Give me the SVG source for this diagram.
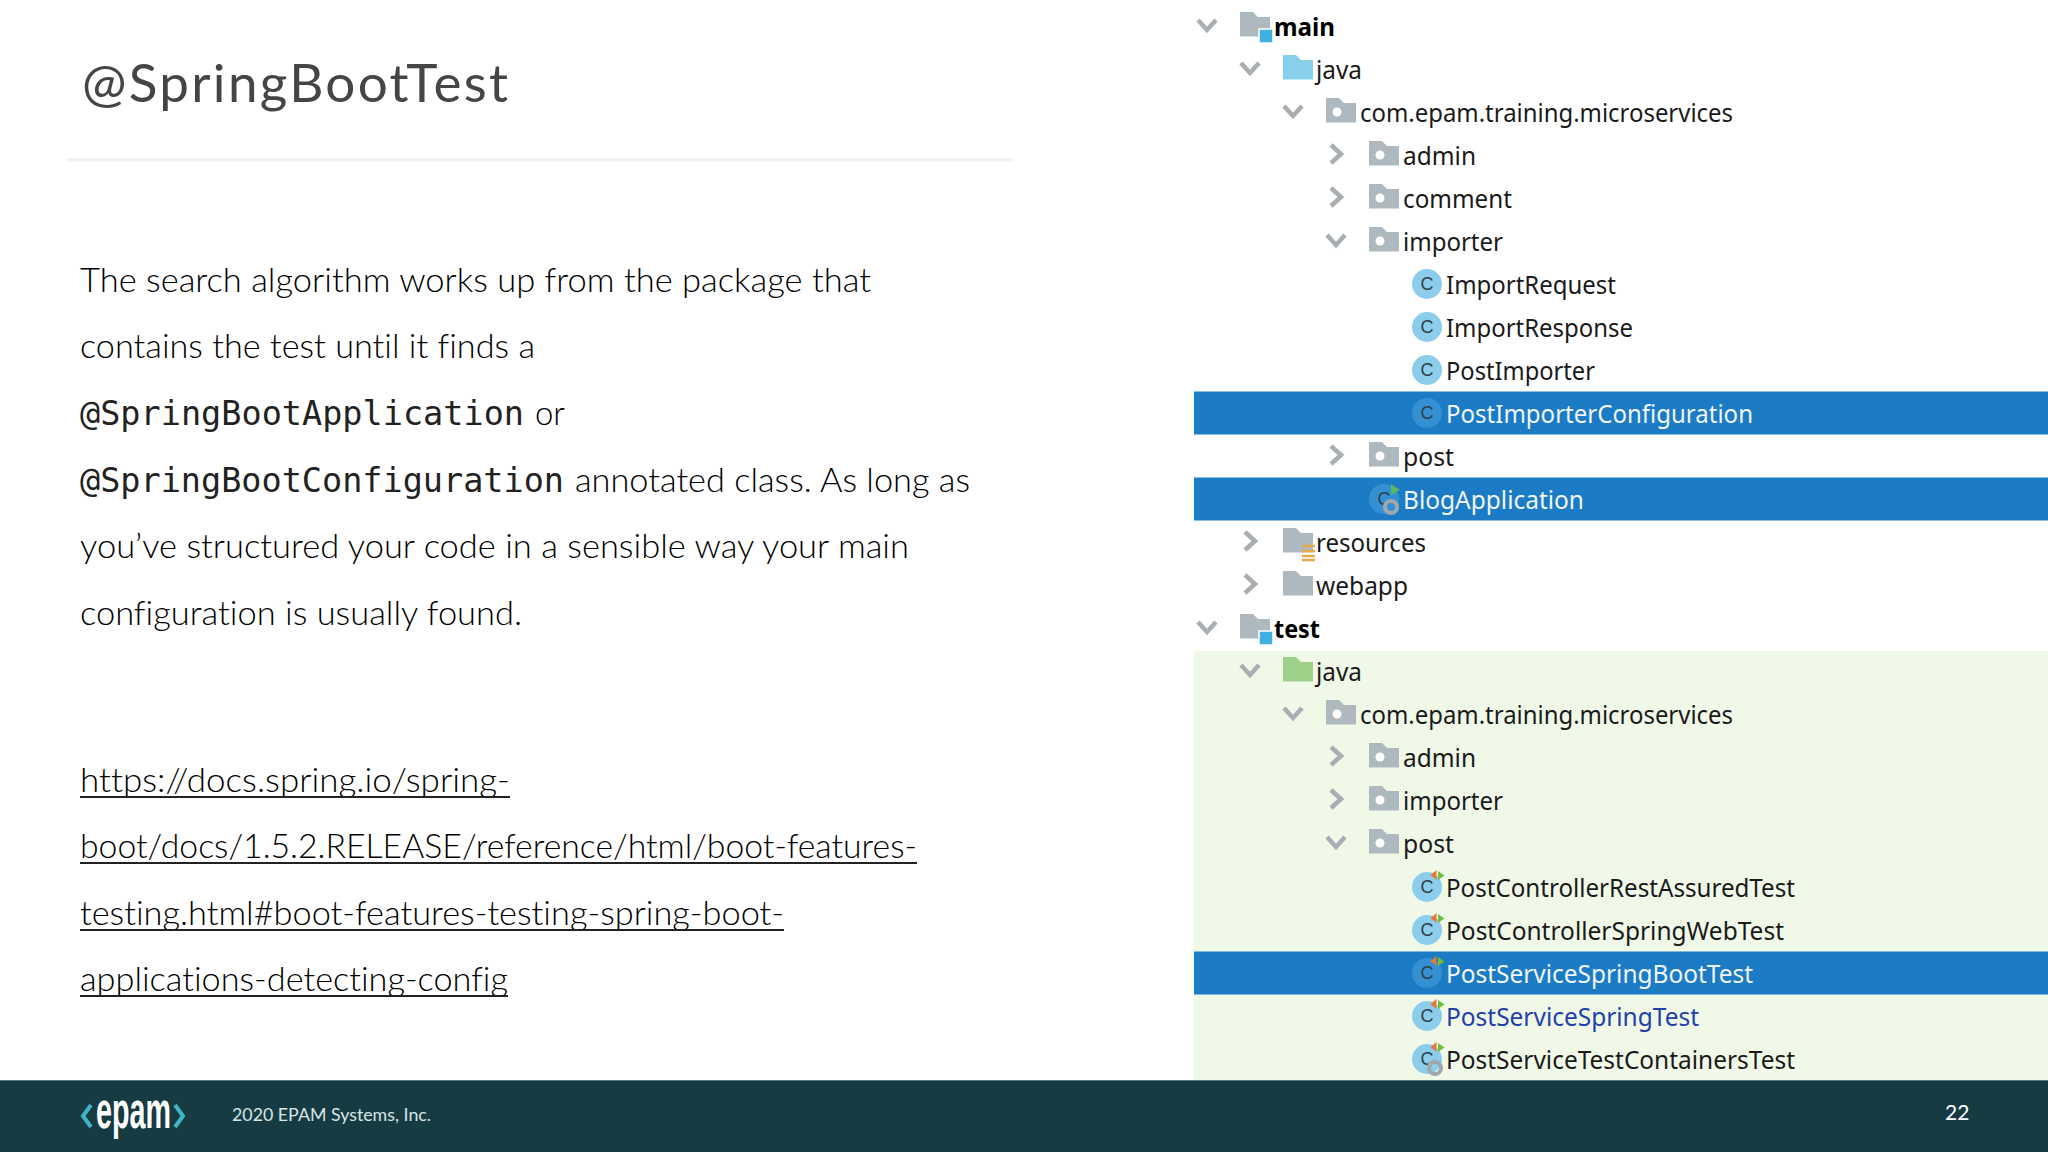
<svg xmlns="http://www.w3.org/2000/svg" width="2048" height="1152" viewBox="0 0 2048 1152">
<style>
.b{font-family:"Lato","Open Sans","Liberation Sans",sans-serif;font-size:33px;font-weight:300;fill:#000;font-variant-ligatures:none}
.m{font-family:"DejaVu Sans Mono","Liberation Mono",monospace;font-size:33.5px;fill:#222}
.t{font-family:"Noto Sans","Open Sans",sans-serif;font-size:25px;fill:#1a1a1a;transform:translateY(-.5px)}
.tb{font-weight:700;fill:#000}
.s{fill:#f0f6fb}
.ul{fill:#222}
.ch{fill:none;stroke:#a8aeb2;stroke-width:4.500}
.sel{fill:#1b7bc5}
.C{font-family:"Liberation Sans",sans-serif;font-size:18px;fill:#2f3f47;text-anchor:middle}
</style>
<defs>
<path id="dn" class="ch" d="M-9 -6L0 4L9 -6"/>
<path id="rt" class="ch" d="M-5 -10L5 -1L-5 8"/>
<path id="f" d="M0 -14H13L18 -9H30V10.500H0Z"/>
<g id="pk"><use href="#f" fill="#aeb8bf"/><circle cx="11" cy="0" r="4.500" fill="#fff"/></g>
<g id="src"><use href="#f" fill="#aeb8bf"/><rect x="19" y="3" width="14" height="14" fill="#3fb1e0" stroke="#fff" stroke-width="1.500"/></g>
<g id="cl"><circle r="15"/><text class="C" x="0" y="6">C</text></g>
<g id="tst"><path d="M9.500 -17L3.500 -12L9.500 -7Z" fill="#e8763c"/><path d="M11 -16L17.500 -11.500L11 -7Z" fill="#6cbf3c"/></g>
<g id="gear"><circle r="6" fill="none" stroke="#a0a8ad" stroke-width="4"/></g>
</defs>
<rect width="2048" height="1152" fill="#fff"/>
<text id="title" x="82" y="102" font-family="Lato,'Open Sans',sans-serif" font-size="53" fill="#454545" textLength="426">@SpringBootTest</text>
<rect x="67" y="158" width="945" height="3.500" fill="#f1f1f1"/>
<g id="body">
<text class="b" x="80" y="292" textLength="791" lengthAdjust="spacingAndGlyphs">The search algorithm works up from the package that</text>
<text class="b" x="80" y="358" textLength="455" lengthAdjust="spacingAndGlyphs">contains the test until it finds a</text>
<text class="m" x="80" y="425" textLength="444">@SpringBootApplication</text>
<text class="b" x="535" y="425" textLength="30" lengthAdjust="spacingAndGlyphs">or</text>
<text class="m" x="80" y="492" textLength="484">@SpringBootConfiguration</text>
<text class="b" x="575" y="492" textLength="395" lengthAdjust="spacingAndGlyphs">annotated class. As long as</text>
<text class="b" x="80" y="558" textLength="829" lengthAdjust="spacingAndGlyphs">you’ve structured your code in a sensible way your main</text>
<text class="b" x="80" y="625" textLength="442" lengthAdjust="spacingAndGlyphs">configuration is usually found.</text>
<text class="b" x="80" y="792" textLength="430" lengthAdjust="spacingAndGlyphs">https://docs.spring.io/spring-</text>
<rect class="ul" x="80" y="796" width="430" height="2"/>
<text class="b" x="80" y="858" textLength="837" lengthAdjust="spacingAndGlyphs">boot/docs/1.5.2.RELEASE/reference/html/boot-features-</text>
<rect class="ul" x="80" y="862" width="837" height="2"/>
<text class="b" x="80" y="925" textLength="704" lengthAdjust="spacingAndGlyphs">testing.html#boot-features-testing-spring-boot-</text>
<rect class="ul" x="80" y="929" width="704" height="2"/>
<text class="b" x="80" y="991" textLength="428" lengthAdjust="spacingAndGlyphs">applications-detecting-config</text>
<rect class="ul" x="80" y="995" width="428" height="2"/>
</g>
<g id="tree-bg">
<rect x="1194" y="651" width="854" height="429" fill="#f0f8e8"/>
<rect class="sel" x="1194" y="391.500" width="854" height="43"/>
<rect class="sel" x="1194" y="477.500" width="854" height="43"/>
<rect class="sel" x="1194" y="951.500" width="854" height="43"/>
</g>
<g id="tree">
<g id="r0"><use href="#dn" x="1207" y="26"/><use href="#src" x="1240" y="26"/><text class="t tb" x="1274" y="36.500" textLength="61" lengthAdjust="spacingAndGlyphs">main</text></g>
<g id="r1"><use href="#dn" x="1250" y="69"/><use href="#f" x="1283" y="69" fill="#88cfea"/><text class="t" x="1316" y="79.500" textLength="46" lengthAdjust="spacingAndGlyphs">java</text></g>
<g id="r2"><use href="#dn" x="1293" y="112"/><use href="#pk" x="1326" y="112"/><text class="t" x="1360" y="122.500" textLength="373" lengthAdjust="spacingAndGlyphs">com.epam.training.microservices</text></g>
<g id="r3"><use href="#rt" x="1336" y="155"/><use href="#pk" x="1369" y="155"/><text class="t" x="1403" y="165.500" textLength="73" lengthAdjust="spacingAndGlyphs">admin</text></g>
<g id="r4"><use href="#rt" x="1336" y="198"/><use href="#pk" x="1369" y="198"/><text class="t" x="1403" y="208.500" textLength="109" lengthAdjust="spacingAndGlyphs">comment</text></g>
<g id="r5"><use href="#dn" x="1336" y="241"/><use href="#pk" x="1369" y="241"/><text class="t" x="1403" y="251.500" textLength="100" lengthAdjust="spacingAndGlyphs">importer</text></g>
<g id="r6"><use href="#cl" x="1427" y="284" fill="#8bcdea"/><text class="t" x="1446" y="294.500" textLength="170" lengthAdjust="spacingAndGlyphs">ImportRequest</text></g>
<g id="r7"><use href="#cl" x="1427" y="327" fill="#8bcdea"/><text class="t" x="1446" y="337.500" textLength="187" lengthAdjust="spacingAndGlyphs">ImportResponse</text></g>
<g id="r8"><use href="#cl" x="1427" y="370" fill="#8bcdea"/><text class="t" x="1446" y="380.500" textLength="149" lengthAdjust="spacingAndGlyphs">PostImporter</text></g>
<g id="r9"><use href="#cl" x="1427" y="413" fill="#3490d2"/><text class="t s" x="1446" y="423.500" textLength="307" lengthAdjust="spacingAndGlyphs">PostImporterConfiguration</text></g>
<g id="r10"><use href="#rt" x="1336" y="456"/><use href="#pk" x="1369" y="456"/><text class="t" x="1403" y="466.500" textLength="51" lengthAdjust="spacingAndGlyphs">post</text></g>
<g id="r11"><use href="#cl" x="1384" y="499" fill="#3490d2"/><path d="M1391 484L1400 490L1391 495Z" fill="#5cb85c"/><use href="#gear" x="1391" y="507"/><text class="t s" x="1403" y="509.500" textLength="181" lengthAdjust="spacingAndGlyphs">BlogApplication</text></g>
<g id="r12"><use href="#rt" x="1250" y="542"/><use href="#f" x="1283" y="542" fill="#aeb8bf"/><path d="M1302 546H1315M1302 551H1315M1302 556H1315M1302 560H1315" stroke="#e3aa4e" stroke-width="2.500"/><text class="t" x="1316" y="552.500" textLength="110" lengthAdjust="spacingAndGlyphs">resources</text></g>
<g id="r13"><use href="#rt" x="1250" y="585"/><use href="#f" x="1283" y="585" fill="#aeb8bf"/><text class="t" x="1316" y="595.500" textLength="92" lengthAdjust="spacingAndGlyphs">webapp</text></g>
<g id="r14"><use href="#dn" x="1207" y="628"/><use href="#src" x="1240" y="628"/><text class="t tb" x="1274" y="638.500" textLength="46" lengthAdjust="spacingAndGlyphs">test</text></g>
<g id="r15"><use href="#dn" x="1250" y="671"/><use href="#f" x="1283" y="671" fill="#9fd08a"/><text class="t" x="1316" y="681.500" textLength="46" lengthAdjust="spacingAndGlyphs">java</text></g>
<g id="r16"><use href="#dn" x="1293" y="714"/><use href="#pk" x="1326" y="714"/><text class="t" x="1360" y="724.500" textLength="373" lengthAdjust="spacingAndGlyphs">com.epam.training.microservices</text></g>
<g id="r17"><use href="#rt" x="1336" y="757"/><use href="#pk" x="1369" y="757"/><text class="t" x="1403" y="767.500" textLength="73" lengthAdjust="spacingAndGlyphs">admin</text></g>
<g id="r18"><use href="#rt" x="1336" y="800"/><use href="#pk" x="1369" y="800"/><text class="t" x="1403" y="810.500" textLength="100" lengthAdjust="spacingAndGlyphs">importer</text></g>
<g id="r19"><use href="#dn" x="1336" y="843"/><use href="#pk" x="1369" y="843"/><text class="t" x="1403" y="853.500" textLength="51" lengthAdjust="spacingAndGlyphs">post</text></g>
<g id="r20"><use href="#cl" x="1427" y="887" fill="#8bcdea"/><use href="#tst" x="1427" y="887"/><text class="t" x="1446" y="897.500" textLength="349" lengthAdjust="spacingAndGlyphs">PostControllerRestAssuredTest</text></g>
<g id="r21"><use href="#cl" x="1427" y="930" fill="#8bcdea"/><use href="#tst" x="1427" y="930"/><text class="t" x="1446" y="940.500" textLength="338" lengthAdjust="spacingAndGlyphs">PostControllerSpringWebTest</text></g>
<g id="r22"><use href="#cl" x="1427" y="973" fill="#3490d2"/><use href="#tst" x="1427" y="973"/><text class="t s" x="1446" y="983.500" textLength="307" lengthAdjust="spacingAndGlyphs">PostServiceSpringBootTest</text></g>
<g id="r23"><use href="#cl" x="1427" y="1016" fill="#8bcdea"/><use href="#tst" x="1427" y="1016"/><text class="t" x="1446" y="1026.500" textLength="253" lengthAdjust="spacingAndGlyphs" style="fill:#2340a8">PostServiceSpringTest</text></g>
<g id="r24"><use href="#cl" x="1427" y="1059" fill="#8bcdea"/><use href="#tst" x="1427" y="1059"/><use href="#gear" x="1435" y="1068"/><text class="t" x="1446" y="1069.500" textLength="349" lengthAdjust="spacingAndGlyphs">PostServiceTestContainersTest</text></g>
</g>
<g id="footer">
<rect y="1080" width="2048" height="72" fill="#163b43"/>
<rect y="1080" width="2048" height="1" fill="#4d7f85"/>
<path d="M91 1105L83 1116L91 1127M175 1105L183 1116L175 1127" fill="none" stroke="#3fb5c4" stroke-width="4"/>
<text x="96" y="1128" font-family="'Liberation Sans',sans-serif" font-size="52" font-weight="700" fill="#fff" textLength="75" lengthAdjust="spacingAndGlyphs">epam</text>
<text x="232" y="1121" font-family="Lato,'Open Sans',sans-serif" font-size="18" fill="#d8e6e6" textLength="199" lengthAdjust="spacingAndGlyphs">2020 EPAM Systems, Inc.</text>
<text x="1945" y="1120" font-family="Lato,'Open Sans',sans-serif" font-size="21" fill="#fff">22</text>
</g>
</svg>
